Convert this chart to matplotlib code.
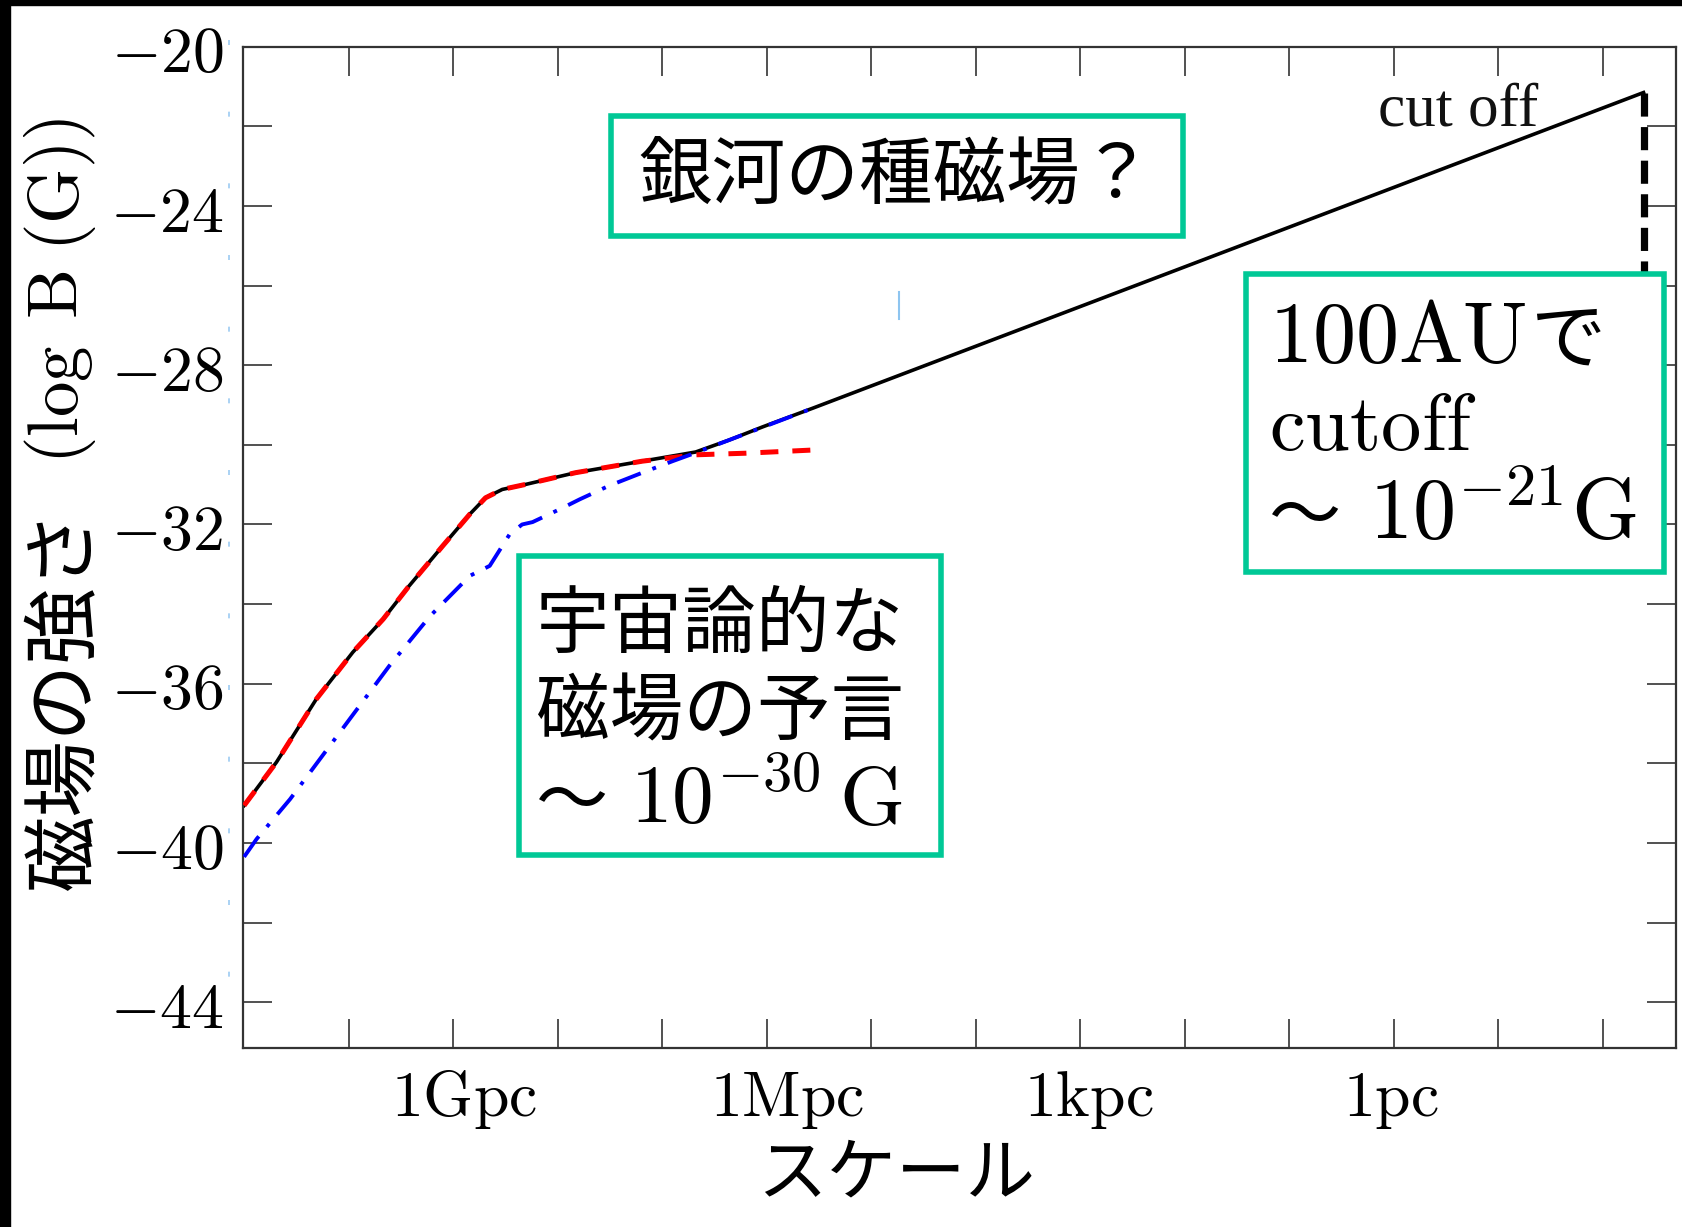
import matplotlib
matplotlib.use("Agg")
import matplotlib.pyplot as plt
import matplotlib.transforms as mtransforms
from matplotlib.lines import Line2D
from matplotlib.patches import Rectangle

plt.rcParams["mathtext.fontset"] = "cm"
plt.rcParams["font.family"] = ["Noto Sans CJK JP", "DejaVu Sans"]

JP = "Noto Sans CJK JP"
TEAL = "#00c896"

# x = log10(scale / pc), larger scales on the left; y = log10(B / G)
scale_total = [11.0, 10.69, 10.31, 9.96, 9.67, 9.42, 9.10, 8.84, 8.69, 8.53,
               8.30, 7.83, 7.19, 6.68, 6.36, 6.04, 5.56, -2.39]
logB_total = [-39.06, -37.97, -36.39, -35.21, -34.38, -33.54, -32.54, -31.74,
              -31.33, -31.12, -30.99, -30.70, -30.41, -30.18, -29.88, -29.55,
              -29.08, -21.15]

scale_red = [11.0, 10.69, 10.31, 9.96, 9.67, 9.42, 9.10, 8.84, 8.69, 8.53,
             8.30, 7.83, 7.19, 6.68, 6.20, 5.56]
logB_red = [-39.06, -37.97, -36.39, -35.21, -34.38, -33.54, -32.54, -31.74,
            -31.33, -31.12, -30.99, -30.70, -30.41, -30.25, -30.21, -30.13]

scale_blue = [11.0, 10.88, 10.56, 10.18, 9.61, 9.22, 8.84, 8.65, 8.46, 8.34,
              8.24, 7.95, 7.79, 7.51, 7.19, 6.90, 6.68, 6.20, 5.56]
logB_blue = [-40.35, -39.90, -38.90, -37.56, -35.55, -34.30, -33.29, -33.04,
             -32.25, -32.00, -31.94, -31.58, -31.37, -31.03, -30.70, -30.41,
             -30.20, -29.72, -29.08]

cutoff_scale = -2.39
cutoff_logB = [-21.15, -30.0]

ytick_major = [-44, -40, -36, -32, -28, -24, -20]
ytick_minor = [-42, -38, -34, -30, -26, -22]
xtick_marks = list(range(10, -3, -1))
xlabel_pos = [8.9, 5.8, 2.92, 0.03]
xlabel_text = ["1Gpc", "1Mpc", "1kpc", "1pc"]

fig = plt.figure(figsize=(16.82, 12.27), dpi=100)
ax = fig.add_axes([0.1445, 0.1459, 0.8519, 0.816])
renderer = fig.canvas.get_renderer()

ax.plot(scale_total, logB_total, color="black", lw=2.6, zorder=2)
ax.plot(scale_red, logB_red, color="red", lw=3.6, dashes=(3.6, 2.8), zorder=3)
ax.plot(scale_blue, logB_blue, color="blue", lw=2.8,
        dashes=(6.5, 3.2, 1.0, 3.2), zorder=4)
ax.plot([cutoff_scale, cutoff_scale], cutoff_logB, color="black", lw=5.2,
        dashes=(3.2, 1.45), zorder=2)
# stray blue mark in the original picture
ax.plot([4.735, 4.735], [-26.17, -26.85], color="#8ec5f0", lw=1.5, zorder=1)

ax.set_xlim(11.01, -2.70)
ax.set_ylim(-45.15, -20)

ax.set_yticks(ytick_major)
ax.set_yticklabels([f"${v}$" for v in ytick_major], fontsize=46)
ax.set_yticks(ytick_minor, minor=True)
ax.set_xticks(xlabel_pos)
ax.set_xticklabels([rf"$\mathrm{{{s}}}$" for s in xlabel_text], fontsize=46)
ax.set_xticks(xtick_marks, minor=True)

ax.tick_params(which="both", direction="in", length=21, width=1.2,
               color="#333333", top=True, right=True)
ax.tick_params(axis="x", which="major", length=0, pad=12)
ax.tick_params(axis="y", which="major", pad=14)
for sp in ax.spines.values():
    sp.set_linewidth(1.6)
    sp.set_color("#333333")


def text_run(x, y, parts, transform, rotation=0, **kw):
    """Put text pieces one after another along the baseline.

    parts: (text, fontsize, gap before it, raise above baseline) in pixels.
    """
    tr = transform
    for s, size, gap, rise in parts:
        if rotation:
            tr = mtransforms.offset_copy(tr, x=-rise, y=gap, units="dots")
        else:
            tr = mtransforms.offset_copy(tr, x=gap, y=rise, units="dots")
        t = ax.text(x, y, s, transform=tr, fontsize=size, ha="left",
                    va="baseline", rotation=rotation, rotation_mode="anchor",
                    **kw)
        bb = t.get_window_extent(renderer)
        if rotation:
            tr = mtransforms.offset_copy(tr, x=rise, y=bb.height, units="dots")
        else:
            tr = mtransforms.offset_copy(tr, x=bb.width, y=-rise, units="dots")


# annotation boxes
for (bx, by, bw, bh) in [(0.2567, 0.811, 0.399, 0.120),
                         (0.1927, 0.1928, 0.2947, 0.299),
                         (0.700, 0.4757, 0.2917, 0.2969)]:
    ax.add_patch(Rectangle((bx, by), bw, bh, transform=ax.transAxes,
                           facecolor="white", edgecolor=TEAL, lw=4,
                           zorder=5, clip_on=False))

ax.text(0.456, 0.870, "銀河の種磁場？", transform=ax.transAxes, fontsize=53,
        family=JP, ha="center", va="center", zorder=6)

ax.text(0.2045, 0.4006, "宇宙論的な", transform=ax.transAxes, fontsize=53,
        family=JP, va="baseline", zorder=6)
ax.text(0.2045, 0.3127, "磁場の予言", transform=ax.transAxes, fontsize=53,
        family=JP, va="baseline", zorder=6)
text_run(0.2045, 0.2238, [("〜", 52, 0, 0), (r"$10^{-30}$", 60, 22, 0),
                          (r"$\mathrm{G}$", 60, 18, 0)],
         ax.transAxes, zorder=6, family=JP)

text_run(0.7157, 0.6847, [(r"$\mathrm{100AU}$", 62, 0, 0), ("で", 54, 4, 0)],
         ax.transAxes, zorder=6, family=JP)
ax.text(0.7157, 0.5969, r"$\mathrm{cutoff}$", transform=ax.transAxes,
        fontsize=58, va="baseline", zorder=6)
text_run(0.7157, 0.5079, [("〜", 52, 0, 0), (r"$10^{-21}\mathrm{G}$", 62, 28, 0)],
         ax.transAxes, zorder=6, family=JP)

ax.text(0.151, -21.97, "cut off", fontsize=44, family="Liberation Serif",
        ha="left", va="baseline", color="#111111", zorder=6)

# axis titles
fig.text(896 / 1682, 1 - 1175 / 1227, "スケール", fontsize=50, family=JP,
         ha="center", va="center")
text_run(-(243 - 87) / 1433.7, (1048 - 890) / 1001,
         [("磁場の強さ", 55, 0, 0),
          (r"$(\log\;\mathrm{B}\;(\mathrm{G}))$", 51, 44, 9)],
         ax.transAxes, rotation=90, family=JP)

# frame of the original screenshot
fig.add_artist(Rectangle((0, 1 - 5 / 1227), 1, 5 / 1227, transform=fig.transFigure,
                         color="black", zorder=10))
fig.add_artist(Rectangle((0, 0), 10 / 1682, 1, transform=fig.transFigure,
                         color="black", zorder=10))
fig.add_artist(Line2D([229 / 1682, 229 / 1682], [1 - 40 / 1227, 1 - 1000 / 1227],
                      transform=fig.transFigure, color="#9ccbf2", lw=1.2,
                      dashes=(3, 40)))

fig.savefig("out.png", dpi=100)
